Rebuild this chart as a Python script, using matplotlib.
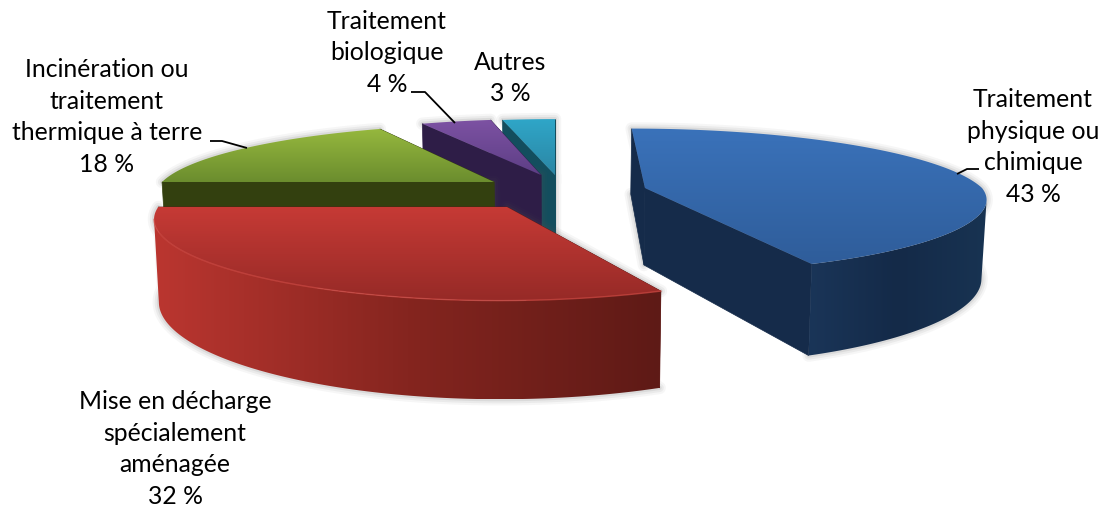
#!/usr/bin/env python3
"""Exploded 3D pie of waste treatment shares, drawn with a hand-made perspective."""

import matplotlib
matplotlib.use("Agg")
import matplotlib.pyplot as plt
import numpy as np
from matplotlib.colors import LinearSegmentedColormap, to_rgb
from matplotlib.patches import Polygon

plt.rcParams["font.family"] = ["Lato", "DejaVu Sans"]

# slice shares, clockwise from the top (labels show them rounded)
names = ["physique", "decharge", "incineration", "biologique", "autres"]
shares = [43.4, 31.6, 18.0, 4.0, 3.0]
label_texts = [
    "Traitement\nphysique ou\nchimique\n43 %",
    "Mise en décharge\nspécialement\naménagée\n32 %",
    "Incinération ou\ntraitement\nthermique à terre\n18 %",
    "Traitement\nbiologique\n4 %",
    "Autres\n3 %",
]
label_xy = [(1033, 147), (175, 449), (107, 117), (387, 53), (510, 78)]

# screen position of each slice tip
apex_px = [(645, 188), (507, 207), (494, 182), (541, 175), (555, 175)]
top_colors = [("#3a72ba", "#2f5d9a"), ("#c63a35", "#962a27"), ("#96b83e", "#6b8d2e"),
              ("#7d52a3", "#5d3e85"), ("#2fa6c8", "#2b86a4")]
side_colors = [("#1a3558", "#142a48", "#183352"), ("#bb3630", "#85251f", "#5e1a16"),
               ("#3a4812", "#33400f", "#33400f"), ("#2e1d47", "#2e1d47", "#2e1d47"),
               ("#134e5e", "#134e5e", "#134e5e")]
face_colors = ["#152b4a", "#5e1a16", "#33400f", "#2e1d47", "#134e5e"]
draw_order = [4, 3, 2, 0, 1]

# perspective of the pie plane
VX, VY = 555.0, -213.0
CY = 188.0
RX = 337.0
K = 0.174
FRONT_X = 0.74
HEIGHT = 77.0
BASE_PINCH = 0.988


def x_scale(w):
    return np.where(w < 1, w ** FRONT_X, w)


def plane_of(sx, sy):
    w = (CY - VY) / (sy - VY)
    return (sx - VX) * x_scale(w) / RX, (w - 1) / K


def project(x, y):
    w = 1 + K * y
    return VX + RX * x / x_scale(w), VY + (CY - VY) / w, HEIGHT / w


def top_point(x0, y0, t):
    return project(x0 + np.sin(t), y0 + np.cos(t))


def lower(sx, sy, h):
    return VX + (sx - VX) * BASE_PINCH, sy + h


def gradient_fill(ax, pts, stops, horizontal, z):
    clip = Polygon(pts, closed=True, fc="none", ec="none", transform=ax.transData, zorder=z)
    ax.add_patch(clip)
    cmap = LinearSegmentedColormap.from_list("grad", [to_rgb(c) for c in stops])
    ramp = np.linspace(0, 1, 256)
    ramp = ramp[None, :] if horizontal else ramp[:, None]
    img = ax.imshow(ramp, cmap=cmap, aspect="auto", interpolation="bilinear",
                    extent=(pts[:, 0].min(), pts[:, 0].max(), pts[:, 1].max(), pts[:, 1].min()), zorder=z)
    img.set_clip_path(clip)


def draw_slice(ax, idx, t0, t1, z):
    x0, y0 = plane_of(*apex_px[idx])
    ts = np.linspace(t0, t1, 240)
    sx, sy, h = top_point(x0, y0, ts)
    ax_, ay_, ah = project(x0, y0)
    ax_, ay_, ah = float(ax_), float(ay_), float(ah)
    bx, by = lower(sx, sy, h)
    abx, aby = lower(ax_, ay_, ah)

    # soft shadow round the whole solid
    outline = np.column_stack([np.r_[ax_, sx, bx[::-1], abx], np.r_[ay_, sy, by[::-1], aby]])
    for lw, alpha in [(9, 0.05), (6, 0.07), (3, 0.10)]:
        ax.add_patch(Polygon(outline, closed=True, fc="none", ec="#555555", lw=lw, alpha=alpha,
                             joinstyle="round", zorder=z))

    # flat cut faces
    for k in (0, -1):
        quad = [(ax_, ay_), (sx[k], sy[k]), (bx[k], by[k]), (abx, aby)]
        ax.add_patch(Polygon(quad, closed=True, fc=face_colors[idx], ec=face_colors[idx], lw=0.5, zorder=z + 1))

    # curved wall, only where it faces the viewer, shaded left to right
    front = np.gradient(sx) < 0
    if front.sum() > 1:
        wall = np.column_stack([np.r_[sx[front], bx[front][::-1]], np.r_[sy[front], by[front][::-1]]])
        gradient_fill(ax, wall, side_colors[idx], True, z + 2)

    # top surface, shaded top to bottom
    pts = np.column_stack([np.r_[ax_, sx], np.r_[ay_, sy]])
    gradient_fill(ax, pts, top_colors[idx], False, z + 3)

    if names[idx] == "decharge":
        ax.plot(sx[front], sy[front], color="#cf4a44", lw=1.0, alpha=0.7, zorder=z + 4)


fig = plt.figure(figsize=(11.02, 5.08), dpi=100)
ax = fig.add_axes([0, 0, 1, 1])

edges = np.radians(np.r_[0, np.cumsum(shares)] * 3.6 / (sum(shares) / 100))
for n, idx in enumerate(draw_order):
    draw_slice(ax, idx, edges[idx], edges[idx + 1], 10 * (n + 1))

# leader lines
for xs, ys in [((957, 967, 979), (174, 169, 169)),
               ((210, 222, 247), (141, 141, 148)),
               ((411, 425, 455), (92, 92, 123))]:
    ax.plot(xs, ys, color="black", lw=1.3, zorder=80, solid_capstyle="butt")

for text, (tx, ty) in zip(label_texts, label_xy):
    ax.text(tx, ty, text, ha="center", va="center", fontsize=17.8, color="black",
            linespacing=1.45, zorder=90)

ax.set_xlim(0, 1102)
ax.set_ylim(508, 0)
ax.axis("off")
fig.savefig("out.png", dpi=100, facecolor="white")
